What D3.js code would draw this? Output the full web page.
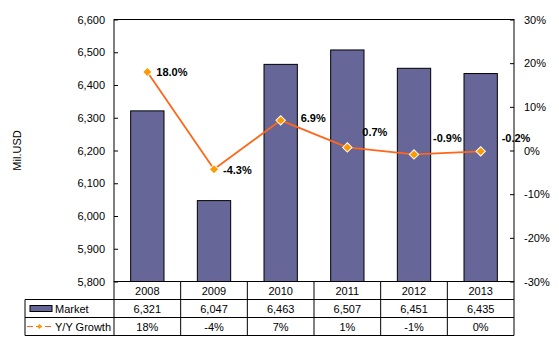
<!DOCTYPE html>
<html>
<head>
<meta charset="utf-8">
<script src="https://cdn.jsdelivr.net/npm/d3@7"></script>
<style>
  body { margin: 0; background: #fff; }
  svg text { font-family: "Liberation Sans", Arial, sans-serif; fill: #000; }
</style>
</head>
<body>
<div id="chart"></div>
<script>
var years = ['2008', '2009', '2010', '2011', '2012', '2013'];
var market = [6321, 6047, 6463, 6507, 6451, 6435];
var growth = [18.0, -4.3, 6.9, 0.7, -0.9, -0.2];
var marketTicks = [5800, 5900, 6000, 6100, 6200, 6300, 6400, 6500, 6600];
var growthTicks = [-30, -20, -10, 0, 10, 20, 30];
// label nudges relative to each marker (dx, dy)
var labelOffsets = [[9, 0], [9, 1], [20, -2], [15, -15], [19, -16], [21, -13]];

var W = 559, H = 351;
var plotLeft = 114, plotRight = 514, plotTop = 19.5, plotBottom = 281.5;
var rowH = 18;

var svg = d3.select('#chart').append('svg')
  .attr('width', W).attr('height', H);

var x = d3.scaleBand().domain(years).range([plotLeft, plotRight]);
var y = d3.scaleLinear().domain([5800, 6600]).range([plotBottom, plotTop]);
var y2 = d3.scaleLinear().domain([-30, 30]).range([plotBottom, plotTop]);

// bars
svg.selectAll('rect.bar')
  .data(market)
  .enter().append('rect')
  .attr('class', 'bar')
  .attr('x', function(d, i) { return x(years[i]) + x.bandwidth() / 4; })
  .attr('width', x.bandwidth() / 2)
  .attr('y', function(d) { return y(d); })
  .attr('height', function(d) { return plotBottom - y(d); })
  .attr('fill', '#666699')
  .attr('stroke', '#000')
  .attr('stroke-width', 1);

// frame
svg.append('rect')
  .attr('x', plotLeft).attr('y', plotTop)
  .attr('width', plotRight - plotLeft).attr('height', plotBottom - plotTop)
  .attr('fill', 'none').attr('stroke', '#000').attr('stroke-width', 1);

// left axis
var yAxis = d3.axisLeft(y).tickValues(marketTicks)
  .tickSize(-4).tickPadding(9)
  .tickFormat(d3.format(','));
var gl = svg.append('g').attr('transform', 'translate(' + plotLeft + ',0)').call(yAxis);
gl.select('.domain').remove();
gl.selectAll('text').style('font-size', '11px');

// right axis
var y2Axis = d3.axisRight(y2).tickValues(growthTicks)
  .tickSize(-4).tickPadding(10)
  .tickFormat(function(d) { return d + '%'; });
var gr = svg.append('g').attr('transform', 'translate(' + plotRight + ',0)').call(y2Axis);
gr.select('.domain').remove();
gr.selectAll('text').style('font-size', '11px');
svg.selectAll('.tick line').attr('stroke', '#000');

// y title
svg.append('text')
  .attr('transform', 'translate(21,' + (plotTop + plotBottom) / 2 + ') rotate(-90)')
  .attr('text-anchor', 'middle')
  .style('font-size', '11px')
  .text('Mil.USD');

// growth line
var line = d3.line()
  .x(function(d, i) { return x(years[i]) + x.bandwidth() / 2; })
  .y(function(d) { return y2(d); });
svg.append('path')
  .datum(growth)
  .attr('d', line)
  .attr('fill', 'none')
  .attr('stroke', '#FF6619')
  .attr('stroke-width', 1.8);

// square markers turned 45deg
var diamond = d3.symbol().type(d3.symbolSquare).size(44);
svg.selectAll('path.mark')
  .data(growth)
  .enter().append('path')
  .attr('class', 'mark')
  .attr('d', diamond)
  .attr('transform', function(d, i) {
    return 'translate(' + (x(years[i]) + x.bandwidth() / 2) + ',' + y2(d) + ') rotate(45)';
  })
  .attr('fill', '#FF9900')
  .attr('stroke', '#fff')
  .attr('stroke-width', 1);

svg.selectAll('text.lbl')
  .data(growth)
  .enter().append('text')
  .attr('class', 'lbl')
  .attr('x', function(d, i) { return x(years[i]) + x.bandwidth() / 2 + labelOffsets[i][0]; })
  .attr('y', function(d, i) { return y2(d) + labelOffsets[i][1]; })
  .attr('dy', '0.35em')
  .style('font-size', '11px')
  .style('font-weight', 'bold')
  .text(function(d) { return d.toFixed(1) + '%'; });

// data table
var tbl = svg.append('g').attr('stroke', '#000').attr('stroke-width', 1);
var legLeft = 25;
var r1 = plotBottom, r2 = r1 + rowH, r3 = r2 + rowH, r4 = r3 + rowH;
[r2, r3, r4].forEach(function(yy) {
  tbl.append('line').attr('x1', legLeft).attr('x2', plotRight).attr('y1', yy).attr('y2', yy);
});
tbl.append('line').attr('x1', legLeft).attr('x2', legLeft).attr('y1', r2).attr('y2', r4);
years.forEach(function(yr) {
  tbl.append('line').attr('x1', x(yr)).attr('x2', x(yr)).attr('y1', r1).attr('y2', r4);
});
tbl.append('line').attr('x1', plotRight).attr('x2', plotRight).attr('y1', r1).attr('y2', r4);

var cells = svg.append('g').style('font-size', '11px').attr('text-anchor', 'middle');
years.forEach(function(yr, i) {
  var cx = x(yr) + x.bandwidth() / 2;
  cells.append('text').attr('x', cx).attr('y', r1 + rowH / 2).attr('dy', '0.38em').text(yr);
  cells.append('text').attr('x', cx).attr('y', r2 + rowH / 2).attr('dy', '0.38em').text(d3.format(',')(market[i]));
  cells.append('text').attr('x', cx).attr('y', r3 + rowH / 2).attr('dy', '0.38em').text(Math.round(growth[i]) + '%');
});

// legend keys
svg.append('rect')
  .attr('x', 30).attr('y', r2 + rowH / 2 - 3)
  .attr('width', 22).attr('height', 6)
  .attr('fill', '#666699').attr('stroke', '#000').attr('stroke-width', 1);
svg.append('text').attr('x', 55).attr('y', r2 + rowH / 2).attr('dy', '0.38em')
  .style('font-size', '11px').text('Market');

svg.append('line')
  .attr('x1', 27).attr('x2', 52)
  .attr('y1', r3 + rowH / 2).attr('y2', r3 + rowH / 2)
  .attr('stroke', '#FF6619').attr('stroke-width', 1)
  .attr('stroke-dasharray', '6,3');
svg.append('path')
  .attr('d', d3.symbol().type(d3.symbolSquare).size(12))
  .attr('transform', 'translate(39.5,' + (r3 + rowH / 2) + ') rotate(45)')
  .attr('fill', '#FF9900');
svg.append('text').attr('x', 55).attr('y', r3 + rowH / 2).attr('dy', '0.38em')
  .style('font-size', '11px').text('Y/Y Growth');
</script>
</body>
</html>
